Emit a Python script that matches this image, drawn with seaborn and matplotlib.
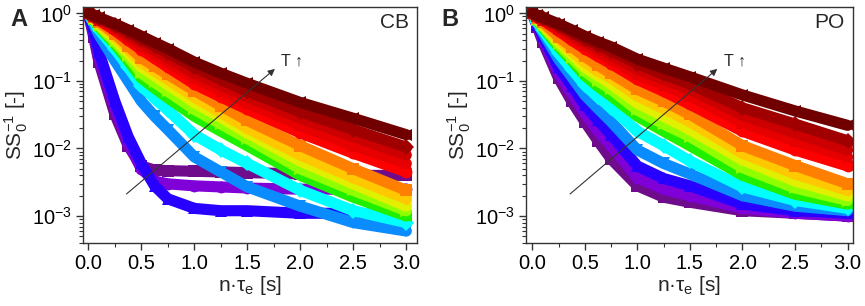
import numpy as np
import pandas as pd
import matplotlib
matplotlib.use('Agg')
import matplotlib.pyplot as plt
import seaborn as sns
from matplotlib.ticker import LogLocator, MultipleLocator, NullFormatter, FormatStrFormatter

x_vals = [0.0, 0.05, 0.1, 0.25, 0.375, 0.5, 0.625, 0.75, 1.0, 1.25, 1.5, 2.0, 2.5, 3.0]

# curves from lowest to highest temperature
curves = ['T01', 'T02', 'T03', 'T04', 'T05', 'T06', 'T07', 'T08',
          'T09', 'T10', 'T11', 'T12', 'T13', 'T14', 'T15']
colors = ['#6E0C8C', '#8000D8', '#2800FF', '#0A8CFF', '#00FFFF', '#20F000',
          '#90FF00', '#E0F000', '#FFC800', '#FF8000', '#FF0000', '#E60000',
          '#CC0000', '#A00000', '#700000']
markers = ['s', 'o', '^', 'v', 'D', '<', '>', 'p', 'h', 's', 'o', '^', 'v', 'D', '<']

# panel A (CB)
cb_vals = [
    [1.0, 0.45, 0.19, 0.032, 0.011, 0.0055, 0.0048, 0.0047, 0.0046, 0.0045, 0.0044, 0.0042, 0.004, 0.004],
    [1.0, 0.5, 0.22, 0.04, 0.012, 0.005, 0.0033, 0.003, 0.0028, 0.0027, 0.0026, 0.0025, 0.0025, 0.0025],
    [1.0, 0.55, 0.27, 0.05, 0.015, 0.006, 0.0028, 0.0018, 0.0013, 0.0012, 0.0012, 0.0011, 0.0011, 0.001],
    [1.0, 0.7, 0.48, 0.2, 0.1, 0.05, 0.03, 0.019, 0.0075, 0.0045, 0.0027, 0.0014, 0.0008, 0.0006],
    [1.0, 0.76, 0.58, 0.3, 0.16, 0.085, 0.055, 0.037, 0.016, 0.0095, 0.006, 0.0024, 0.0012, 0.0008],
    [1.0, 0.8, 0.63, 0.35, 0.2, 0.11, 0.078, 0.056, 0.03, 0.018, 0.011, 0.004, 0.0019, 0.001],
    [1.0, 0.82, 0.66, 0.38, 0.23, 0.13, 0.095, 0.07, 0.038, 0.023, 0.014, 0.005, 0.0024, 0.0012],
    [1.0, 0.83, 0.69, 0.42, 0.26, 0.16, 0.12, 0.088, 0.048, 0.029, 0.017, 0.0065, 0.003, 0.0014],
    [1.0, 0.85, 0.72, 0.46, 0.3, 0.19, 0.14, 0.105, 0.058, 0.034, 0.02, 0.008, 0.0037, 0.0018],
    [1.0, 0.87, 0.75, 0.5, 0.33, 0.22, 0.165, 0.125, 0.072, 0.043, 0.026, 0.011, 0.005, 0.0024],
    [1.0, 0.89, 0.79, 0.56, 0.4, 0.29, 0.215, 0.16, 0.09, 0.058, 0.038, 0.017, 0.0085, 0.0045],
    [1.0, 0.9, 0.81, 0.6, 0.44, 0.33, 0.25, 0.19, 0.11, 0.072, 0.047, 0.022, 0.011, 0.006],
    [1.0, 0.91, 0.83, 0.64, 0.48, 0.37, 0.285, 0.22, 0.13, 0.087, 0.058, 0.028, 0.015, 0.008],
    [1.0, 0.92, 0.85, 0.67, 0.53, 0.42, 0.33, 0.26, 0.16, 0.105, 0.07, 0.035, 0.019, 0.0105],
    [1.0, 0.93, 0.87, 0.7, 0.57, 0.46, 0.37, 0.3, 0.19, 0.13, 0.092, 0.048, 0.028, 0.016],
]

# panel B (PO)
po_vals = [
    [1.0, 0.62, 0.38, 0.11, 0.05, 0.025, 0.013, 0.007, 0.0028, 0.0019, 0.0016, 0.0012, 0.0011, 0.001],
    [1.0, 0.65, 0.42, 0.13, 0.065, 0.033, 0.018, 0.011, 0.0037, 0.0025, 0.002, 0.0013, 0.0011, 0.001],
    [1.0, 0.68, 0.46, 0.16, 0.085, 0.044, 0.026, 0.016, 0.0055, 0.0036, 0.0028, 0.0015, 0.0012, 0.0011],
    [1.0, 0.72, 0.52, 0.21, 0.115, 0.062, 0.039, 0.025, 0.0095, 0.006, 0.0042, 0.002, 0.0014, 0.0012],
    [1.0, 0.75, 0.57, 0.26, 0.15, 0.087, 0.058, 0.04, 0.018, 0.011, 0.0065, 0.0027, 0.0017, 0.0013],
    [1.0, 0.78, 0.62, 0.32, 0.2, 0.12, 0.083, 0.06, 0.03, 0.018, 0.011, 0.004, 0.0021, 0.0015],
    [1.0, 0.8, 0.65, 0.35, 0.22, 0.14, 0.1, 0.075, 0.037, 0.023, 0.015, 0.0052, 0.0026, 0.0017],
    [1.0, 0.82, 0.68, 0.38, 0.25, 0.16, 0.12, 0.09, 0.047, 0.03, 0.019, 0.0068, 0.0033, 0.002],
    [1.0, 0.84, 0.71, 0.42, 0.28, 0.19, 0.14, 0.11, 0.06, 0.039, 0.025, 0.0085, 0.0042, 0.0024],
    [1.0, 0.86, 0.74, 0.45, 0.32, 0.23, 0.17, 0.13, 0.075, 0.05, 0.032, 0.011, 0.0056, 0.003],
    [1.0, 0.89, 0.79, 0.55, 0.4, 0.3, 0.23, 0.18, 0.105, 0.07, 0.045, 0.018, 0.0095, 0.0055],
    [1.0, 0.9, 0.81, 0.59, 0.44, 0.34, 0.265, 0.21, 0.125, 0.087, 0.06, 0.024, 0.013, 0.0075],
    [1.0, 0.91, 0.83, 0.63, 0.48, 0.38, 0.3, 0.24, 0.15, 0.105, 0.075, 0.031, 0.017, 0.0095],
    [1.0, 0.92, 0.85, 0.67, 0.53, 0.42, 0.34, 0.28, 0.18, 0.125, 0.09, 0.04, 0.023, 0.013],
    [1.0, 0.93, 0.87, 0.7, 0.57, 0.46, 0.38, 0.32, 0.21, 0.155, 0.115, 0.062, 0.036, 0.022],
]


def to_frame(vals):
    rows = []
    for name, ys in zip(curves, vals):
        for x, y in zip(x_vals, ys):
            rows.append((name, x, y))
    return pd.DataFrame(rows, columns=['curve', 'x', 'y'])


sns.set_style('ticks')
plt.rcParams['font.family'] = ['Liberation Sans', 'DejaVu Sans']
plt.rcParams['mathtext.fontset'] = 'custom'
plt.rcParams['mathtext.rm'] = 'Liberation Sans'
plt.rcParams['mathtext.it'] = 'Liberation Sans:italic'
plt.rcParams['mathtext.bf'] = 'Liberation Sans:bold'
plt.rcParams['mathtext.default'] = 'regular'
plt.rcParams['axes.unicode_minus'] = False

fig = plt.figure(figsize=(8.65, 3.06), dpi=100)
ax_a = fig.add_axes([0.096, 0.206, 0.386, 0.771])
ax_b = fig.add_axes([0.608, 0.206, 0.378, 0.771])

panels = [
    (ax_a, cb_vals, 'CB', (-0.05, 3.1)),
    (ax_b, po_vals, 'PO', (-0.06, 3.05)),
]

for ax, vals, name, xlim in panels:
    df = to_frame(vals)
    sns.lineplot(data=df, x='x', y='y', hue='curve', hue_order=curves,
                 style='curve', style_order=curves, palette=colors,
                 markers=markers, dashes=False, linewidth=8, markersize=8.5,
                 markeredgewidth=0, estimator=None, legend=False, ax=ax,
                 solid_joinstyle='round', solid_capstyle='round')
    ax.set_yscale('log')
    ax.set_xlim(*xlim)
    ax.set_ylim(4e-4, 1.24)
    ax.xaxis.set_major_locator(MultipleLocator(0.5))
    ax.xaxis.set_minor_locator(MultipleLocator(0.25))
    ax.xaxis.set_major_formatter(FormatStrFormatter('%.1f'))
    ax.yaxis.set_major_locator(LogLocator(base=10, numticks=10))
    ax.yaxis.set_minor_locator(LogLocator(base=10, subs=np.arange(2, 10), numticks=10))
    ax.yaxis.set_minor_formatter(NullFormatter())
    ax.tick_params(which='major', direction='out', length=5, width=1,
                   labelsize=14.5, colors='#333333', labelcolor='black', pad=3)
    ax.tick_params(which='minor', direction='out', length=3, width=0.8,
                   colors='#333333')
    for sp in ax.spines.values():
        sp.set_visible(True)
        sp.set_color('#333333')
        sp.set_linewidth(1.0)
    ax.set_xlabel('n·τ$_e$ [s]', fontsize=15, labelpad=1)
    ax.set_ylabel('SS$_0^{-1}$ [-]', fontsize=15, labelpad=1)

    ax.annotate('', xy=(1.78, 0.16), xytext=(0.34, 0.002),
                arrowprops=dict(arrowstyle='-|>', lw=0.8, color='#333333',
                                mutation_scale=10))
    ax.text(1.82, 0.2, 'T ↑', fontsize=11.5, ha='left', va='center')
    ax.text(0.975, 0.935, name, transform=ax.transAxes, fontsize=15,
            ha='right', va='center')

fig.text(0.012, 0.935, 'A', fontsize=17, fontweight='bold', va='center')
fig.text(0.510, 0.935, 'B', fontsize=17, fontweight='bold', va='center')

fig.savefig('out.png', dpi=100)
